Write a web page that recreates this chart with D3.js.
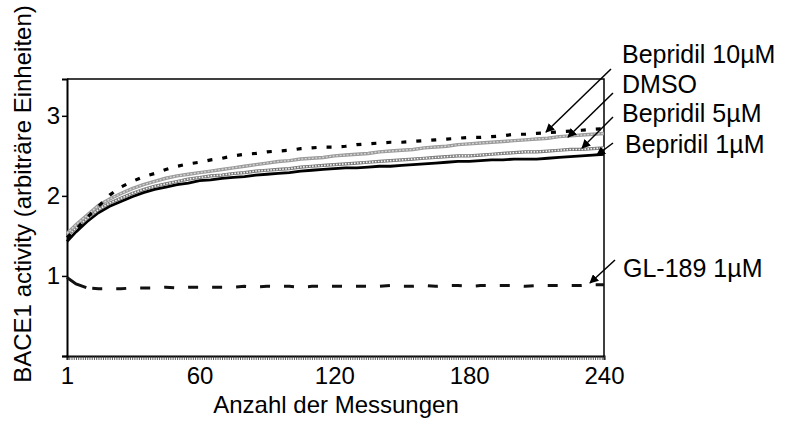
<!DOCTYPE html>
<html>
<head>
<meta charset="utf-8">
<script src="https://cdn.jsdelivr.net/npm/d3@7"></script>
<style>
  body { margin: 0; background: #fff; }
  text { font-family: "Liberation Sans", Arial, sans-serif; fill: #000; }
</style>
</head>
<body>
<div id="chart"></div>
<script>
// measurement numbers (x)
const measurements = [1, 5, 10, 15, 20, 25, 30, 35, 40, 45, 50, 55, 60, 65, 70, 75, 80, 85, 90, 95,
  100, 105, 110, 115, 120, 125, 130, 135, 140, 145, 150, 155, 160, 165, 170, 175, 180, 185, 190, 195,
  200, 205, 210, 215, 220, 225, 230, 235, 240];

const bepridil1 = [1.43, 1.55, 1.68, 1.79, 1.87, 1.93, 1.99, 2.04, 2.08, 2.11, 2.14, 2.16, 2.19, 2.20, 2.22, 2.23, 2.24, 2.26, 2.27, 2.28,
  2.29, 2.31, 2.32, 2.33, 2.34, 2.35, 2.35, 2.36, 2.37, 2.37, 2.38, 2.39, 2.40, 2.41, 2.42, 2.43, 2.43, 2.44, 2.45, 2.45,
  2.46, 2.46, 2.46, 2.47, 2.48, 2.49, 2.50, 2.51, 2.52];
const bepridil5 = [1.50, 1.60, 1.72, 1.83, 1.91, 1.97, 2.03, 2.08, 2.12, 2.15, 2.18, 2.21, 2.23, 2.25, 2.26, 2.28, 2.29, 2.31, 2.32, 2.33,
  2.34, 2.36, 2.37, 2.38, 2.39, 2.40, 2.41, 2.42, 2.43, 2.44, 2.45, 2.46, 2.47, 2.48, 2.49, 2.50, 2.50, 2.51, 2.52, 2.53,
  2.54, 2.55, 2.55, 2.56, 2.57, 2.58, 2.58, 2.59, 2.60];
const dmso = [1.53, 1.64, 1.76, 1.88, 1.96, 2.03, 2.09, 2.14, 2.18, 2.22, 2.25, 2.27, 2.29, 2.31, 2.33, 2.35, 2.37, 2.39, 2.41, 2.43,
  2.44, 2.46, 2.47, 2.48, 2.50, 2.51, 2.52, 2.53, 2.55, 2.56, 2.57, 2.58, 2.60, 2.61, 2.62, 2.64, 2.65, 2.66, 2.67, 2.68,
  2.69, 2.70, 2.71, 2.72, 2.74, 2.75, 2.76, 2.77, 2.78];
const bepridil10 = [1.48, 1.58, 1.73, 1.87, 2.01, 2.11, 2.18, 2.24, 2.28, 2.33, 2.37, 2.40, 2.42, 2.45, 2.47, 2.50, 2.52, 2.53, 2.55, 2.56,
  2.57, 2.59, 2.60, 2.61, 2.61, 2.62, 2.64, 2.65, 2.66, 2.67, 2.67, 2.68, 2.69, 2.70, 2.71, 2.72, 2.73, 2.73, 2.74, 2.75,
  2.77, 2.77, 2.78, 2.79, 2.80, 2.81, 2.82, 2.83, 2.84];
const gl189 = [0.98, 0.90, 0.85, 0.84, 0.84, 0.84, 0.85, 0.85, 0.85, 0.86, 0.85, 0.86, 0.86, 0.86, 0.86, 0.86, 0.87, 0.86, 0.87, 0.87,
  0.87, 0.86, 0.87, 0.87, 0.87, 0.87, 0.87, 0.87, 0.87, 0.88, 0.87, 0.87, 0.88, 0.87, 0.88, 0.88, 0.87, 0.88, 0.88, 0.88,
  0.88, 0.87, 0.88, 0.88, 0.88, 0.88, 0.88, 0.89, 0.89];

const xLabels = [1, 60, 120, 180, 240];
const yLabels = [1, 2, 3];

const width = 785, height = 443;
const plot = { left: 67, right: 604, top: 79, bottom: 356 };

const svg = d3.select("#chart").append("svg")
  .attr("width", width)
  .attr("height", height);

const x = d3.scaleLinear().domain([1, 240]).range([plot.left, plot.right]);
const y = d3.scaleLinear().domain([0, 3.46]).range([plot.bottom, plot.top]);

// frame (top and right)
svg.append("path")
  .attr("d", `M${plot.left},${plot.top}H${plot.right}V${plot.bottom}`)
  .attr("fill", "none").attr("stroke", "#000").attr("stroke-width", 1.5);

// x axis: a small tick for every measurement
const xMinor = svg.append("g")
  .attr("transform", `translate(0,${plot.bottom})`)
  .call(d3.axisBottom(x).tickValues(d3.range(1, 241)).tickSize(4).tickFormat(""));
xMinor.select(".domain").attr("stroke-width", 2);
xMinor.selectAll(".tick line").attr("stroke-width", 0.8).attr("stroke", "#333");

const xMajor = svg.append("g")
  .attr("transform", `translate(0,${plot.bottom})`)
  .call(d3.axisBottom(x).tickValues(xLabels).tickSize(0).tickPadding(11));
xMajor.select(".domain").remove();
xMajor.selectAll("text").attr("font-size", 24).attr("font-family", "Liberation Sans, Arial, sans-serif");

// y axis
const yAxis = svg.append("g")
  .attr("transform", `translate(${plot.left},0)`)
  .call(d3.axisLeft(y).tickValues([0, ...yLabels]).tickSize(5).tickPadding(2)
    .tickFormat(d => d === 0 ? "" : d));
yAxis.select(".domain").attr("stroke-width", 2);
yAxis.selectAll(".tick line").attr("stroke-width", 1.5);
yAxis.selectAll("text").attr("font-size", 24).attr("font-family", "Liberation Sans, Arial, sans-serif");

const line = d3.line()
  .x((d, i) => x(measurements[i]))
  .y(d => y(d));

// GL-189 1µM
svg.append("path")
  .attr("d", line(gl189))
  .attr("fill", "none").attr("stroke", "#111").attr("stroke-width", 3)
  .attr("stroke-dasharray", "22,6,10,14,10,14,10,14,10,14,10,14,10,14,10,14,10,14,10,14,10,14,10,14,10,14,10,14,10,14,10,14,10,14,10,14,10,14,10,14,10,14,10,14");

// Bepridil 1µM
svg.append("path")
  .attr("d", line(bepridil1))
  .attr("fill", "none").attr("stroke", "#000").attr("stroke-width", 2.8);

// Bepridil 5µM (dotted band)
svg.append("path")
  .attr("d", line(bepridil5))
  .attr("fill", "none").attr("stroke", "#777").attr("stroke-width", 3.2);
svg.append("path")
  .attr("d", line(bepridil5))
  .attr("fill", "none").attr("stroke", "#f2f2f2").attr("stroke-width", 1.6)
  .attr("stroke-dasharray", "1.6,1.4");

// DMSO (grey with square markers)
svg.append("path")
  .attr("d", line(dmso))
  .attr("fill", "none").attr("stroke", "#9a9a9a").attr("stroke-width", 3.4);
svg.append("path")
  .attr("d", line(dmso))
  .attr("fill", "none").attr("stroke", "#d4d4d4").attr("stroke-width", 1.4)
  .attr("stroke-dasharray", "2,1.5");

// Bepridil 10µM
svg.append("path")
  .attr("d", line(bepridil10))
  .attr("fill", "none").attr("stroke", "#000").attr("stroke-width", 3.2)
  .attr("stroke-dasharray", "5,10");

// legend labels with arrows
const defs = svg.append("defs");
defs.append("marker")
  .attr("id", "arrow")
  .attr("viewBox", "0 0 10 10")
  .attr("refX", 9).attr("refY", 5)
  .attr("markerWidth", 9).attr("markerHeight", 9)
  .attr("markerUnits", "userSpaceOnUse")
  .attr("orient", "auto")
  .append("path")
  .attr("d", "M0,0L10,5L0,10Z")
  .attr("fill", "#000");

const labels = [
  { text: "Bepridil 10µM", tx: 622, ty: 63, x1: 611, y1: 69, x2: 546, y2: 132 },
  { text: "DMSO", tx: 622, ty: 93, x1: 613, y1: 93, x2: 568, y2: 137 },
  { text: "Bepridil 5µM", tx: 622, ty: 122, x1: 613, y1: 117, x2: 582, y2: 148 },
  { text: "Bepridil 1µM", tx: 625, ty: 153, x1: 613, y1: 143, x2: 597, y2: 155 },
  { text: "GL-189 1µM", tx: 623, ty: 277, x1: 615, y1: 260, x2: 590, y2: 283 }
];

labels.forEach(l => {
  svg.append("line")
    .attr("x1", l.x1).attr("y1", l.y1).attr("x2", l.x2).attr("y2", l.y2)
    .attr("stroke", "#000").attr("stroke-width", 1.5)
    .attr("marker-end", "url(#arrow)");
  svg.append("text")
    .attr("x", l.tx).attr("y", l.ty)
    .attr("font-size", 25)
    .text(l.text);
});

// axis titles
svg.append("text")
  .attr("x", 336).attr("y", 413)
  .attr("text-anchor", "middle")
  .attr("font-size", 24)
  .text("Anzahl der Messungen");

svg.append("text")
  .attr("transform", "translate(31,194) rotate(-90)")
  .attr("text-anchor", "middle")
  .attr("font-size", 24)
  .text("BACE1 activity (arbiträre Einheiten)");
</script>
</body>
</html>
